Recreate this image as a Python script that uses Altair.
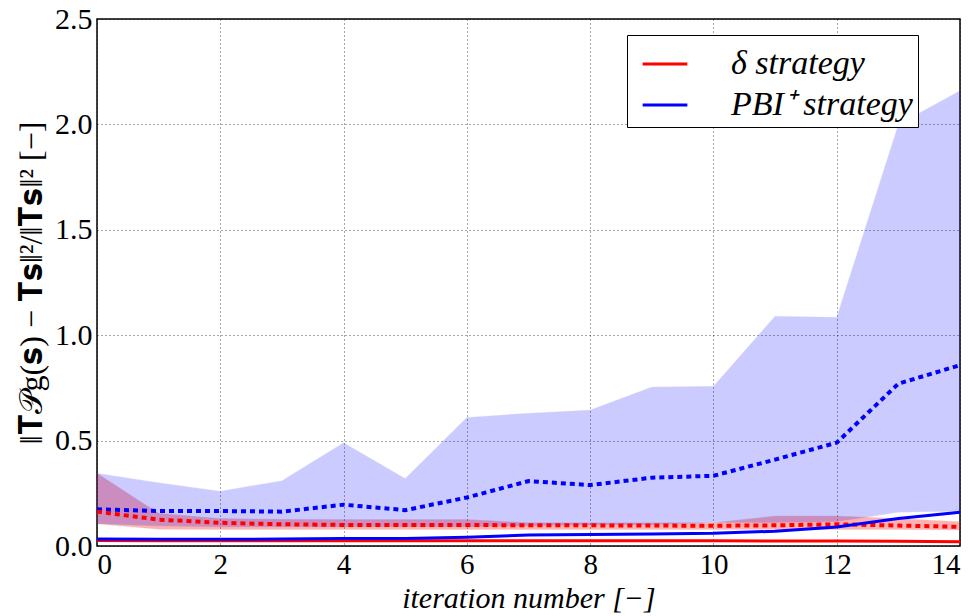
import altair as alt
import pandas as pd

iterations = list(range(15))
red_solid = [0.026, 0.025, 0.025, 0.025, 0.025, 0.025, 0.025, 0.025, 0.025, 0.025, 0.025, 0.024, 0.024, 0.023, 0.02]
blue_solid = [0.033, 0.032, 0.032, 0.033, 0.035, 0.036, 0.042, 0.052, 0.055, 0.057, 0.06, 0.07, 0.09, 0.13, 0.16]
red_mean = [0.163, 0.125, 0.11, 0.103, 0.1, 0.1, 0.1, 0.098, 0.098, 0.097, 0.096, 0.098, 0.103, 0.097, 0.091]
blue_mean = [0.174, 0.166, 0.166, 0.163, 0.196, 0.17, 0.23, 0.308, 0.289, 0.324, 0.333, 0.41, 0.49, 0.77, 0.858]
blue_hi = [0.345, 0.3, 0.26, 0.31, 0.49, 0.32, 0.61, 0.63, 0.645, 0.754, 0.758, 1.09, 1.085, 2.0, 2.16]
blue_lo = [0.105, 0.095, 0.09, 0.09, 0.09, 0.09, 0.09, 0.095, 0.1, 0.1, 0.112, 0.11, 0.115, 0.16, 0.165]
red_hi = [0.345, 0.155, 0.13, 0.127, 0.126, 0.126, 0.126, 0.11, 0.11, 0.11, 0.11, 0.142, 0.142, 0.13, 0.115]
red_lo = [0.105, 0.08, 0.078, 0.078, 0.078, 0.078, 0.078, 0.078, 0.078, 0.078, 0.078, 0.078, 0.078, 0.078, 0.076]

series_names = ["δ strategy", "PBI⁺ strategy"]
series_colors = ["#ff0000", "#0000ff"]

red_df = pd.DataFrame(dict(it=iterations, s=series_names[0], solid=red_solid, mean=red_mean, lo=red_lo, hi=red_hi))
blue_df = pd.DataFrame(dict(it=iterations, s=series_names[1], solid=blue_solid, mean=blue_mean, lo=blue_lo, hi=blue_hi))
df = pd.concat([red_df, blue_df], ignore_index=True)

FONT = "Liberation Serif"

xs = alt.X("it:Q", scale=alt.Scale(domain=[0, 14], nice=False),
           axis=alt.Axis(values=list(range(0, 15, 2)), title="iteration number [−]",
                         titleFontStyle="italic", titleFontWeight="normal", titleFontSize=30,
                         titlePadding=4, labelFontSize=29, labelPadding=4, format="d"))
y_title = "‖𝐓𝒫g(𝐬) − 𝐓𝐬‖²/‖𝐓𝐬‖² [−]"
ys_axis = alt.Axis(values=[0, 0.5, 1.0, 1.5, 2.0, 2.5], format=".1f", title=y_title,
                   titleFontWeight="normal", titleFontSize=32, titlePadding=6,
                   labelFontSize=30, labelPadding=5)
yscale = alt.Scale(domain=[0, 2.5], nice=False)


def band(data, color, alpha):
    return alt.Chart(data).mark_area(
        orient="vertical", color=color, opacity=alpha,
        stroke="#666666", strokeOpacity=0.3, strokeWidth=1,
    ).encode(
        x=xs,
        y=alt.Y("hi:Q", scale=yscale, axis=ys_axis),
        y2="lo:Q",
    )


def mean_line(data, color):
    return alt.Chart(data).mark_line(color=color, strokeWidth=4, strokeDash=[5, 4]).encode(
        x="it:Q", y="mean:Q",
    )


color_scale = alt.Scale(domain=series_names, range=series_colors)

solids = alt.Chart(df).mark_line(strokeWidth=3).encode(
    x="it:Q",
    y="solid:Q",
    color=alt.Color("s:N", scale=color_scale, sort=series_names,
                    legend=alt.Legend(title=None, orient="none", legendX=530, legendY=16,
                                      symbolType="stroke", symbolStrokeWidth=3, symbolSize=2000,
                                      symbolOffset=9,
                                      labelFontSize=34, labelFont=FONT, labelFontStyle="italic",
                                      labelOffset=42, rowPadding=0, padding=5,
                                      strokeColor="black", fillColor="white",
                                      labelLimit=400, offset=0)),
)

chart = alt.layer(
    band(red_df, "#ff0000", 0.3), band(blue_df, "#0000ff", 0.2),
    mean_line(blue_df, "#0000ff"), mean_line(red_df, "#ff0000"),
    solids,
).properties(
    width=863, height=527,
    autosize=alt.AutoSizeParams(type="none"),
    padding={"left": 89, "top": 11, "right": 6, "bottom": 70},
).configure_axis(
    grid=True, gridColor="black", gridDash=[1, 3], gridOpacity=0.7, gridWidth=1,
    domain=False, ticks=False,
    labelFont=FONT, titleFont=FONT, labelColor="black", titleColor="black",
).configure_view(stroke="black", strokeWidth=1.5)

chart.save("out.html", embed_options={"renderer": "svg", "actions": False})
